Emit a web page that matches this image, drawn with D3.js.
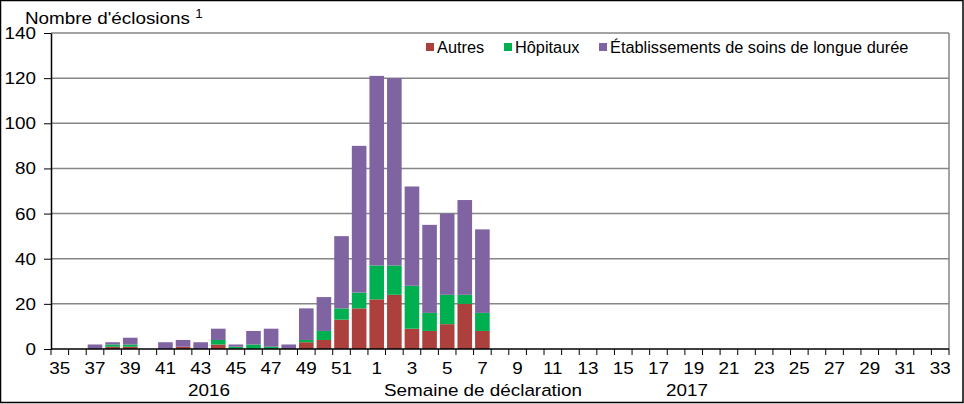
<!DOCTYPE html>
<html><head><meta charset="utf-8">
<script src="https://cdn.jsdelivr.net/npm/d3@7"></script>
<style>
body{margin:0;background:#fff;}
svg{display:block;font-family:"Liberation Sans",Arial,sans-serif;}
</style></head><body>
<svg id="c" width="964" height="404"></svg>
<script>
const weeks = [35,36,37,38,39,40,41,42,43,44,45,46,47,48,49,50,51,52,
  1,2,3,4,5,6,7,8,9,10,11,12,13,14,15,16,17,18,19,20,21,22,23,24,25,26,27,28,29,30,31,32,33];
const autres =   [0,0,0,1,1,0,0,1,0,2,0,0,0,0,3,4,13,18,22,24,9,8,11,20,8,0,0,0,0,0,0,0,0,0,0,0,0,0,0,0,0,0,0,0,0,0,0,0,0,0,0];
const hopitaux = [0,0,0,1,1,0,0,0,0,2,1,2,1,0,1,4,5,7,15,13,19,8,13,4,8,0,0,0,0,0,0,0,0,0,0,0,0,0,0,0,0,0,0,0,0,0,0,0,0,0,0];
const soins =    [0,0,2,1,3,0,3,3,3,5,1,6,8,2,14,15,32,65,84,83,44,39,36,42,37,0,0,0,0,0,0,0,0,0,0,0,0,0,0,0,0,0,0,0,0,0,0,0,0,0,0];
const seriesNames = ["Autres","Hôpitaux","Établissements de soins de longue durée"];
const colors = ["#AB403D","#00B050","#8064A2"];
const yTicks = [0,20,40,60,80,100,120,140];

const svg = d3.select("#c");
const L = 51, R = 949, T = 33, B = 349;
const K = 1.11; // horizontal stretch of the reference's text
function stretch(sel, k){
  sel.each(function(){
    const xv = +(this.getAttribute("x")||0);
    this.setAttribute("transform",`translate(${xv*(1-k)},0) scale(${k},1)`);
  });
}
const x = d3.scaleBand().domain(d3.range(weeks.length)).range([L,R]).paddingInner(0.17).paddingOuter(0.085);
const y = d3.scaleLinear().domain([0,140]).range([B,T]);

// outer border
svg.append("rect").attr("x",0.5).attr("y",0.5).attr("width",962.5).attr("height",402).attr("fill","none").attr("stroke","#000").attr("stroke-width",1.5);

// gridlines
svg.append("g").selectAll("line").data(yTicks.filter(d=>d>0)).join("line")
  .attr("x1",L).attr("x2",R).attr("y1",d=>y(d)).attr("y2",d=>y(d))
  .attr("stroke","#868686").attr("stroke-width",1.5);
svg.append("line").attr("x1",R).attr("x2",R).attr("y1",T).attr("y2",B).attr("stroke","#868686").attr("stroke-width",1.5);

// bars
const table = weeks.map((w,i)=>({i, a:autres[i], h:hopitaux[i], s:soins[i]}));
const stack = d3.stack().keys(["a","h","s"])(table);
svg.append("g").selectAll("g").data(stack).join("g").attr("fill",(d,k)=>colors[k])
  .selectAll("rect").data(d=>d.filter(p=>p[1]-p[0]>0)).join("rect")
  .attr("x",d=>x(d.data.i)).attr("width",x.bandwidth())
  .attr("y",d=>y(d[1])).attr("height",d=>y(d[0])-y(d[1]));

// y axis
const ya = svg.append("g").attr("transform",`translate(${L},0)`)
  .call(d3.axisLeft(y).tickValues(yTicks).tickSize(7).tickSizeOuter(0));
ya.select(".domain").attr("stroke","#000").attr("stroke-width",1.5);
ya.selectAll(".tick line").attr("stroke","#000");
ya.selectAll("text").attr("font-size",17).attr("x",-15).attr("fill","#000").attr("font-family","Liberation Sans, Arial, sans-serif")
  .attr("transform",`translate(${-15*(1-K)},0) scale(${K},1)`);

// x axis
const bounds = d3.range(weeks.length+1).map(i=>L + i*(R-L)/weeks.length);
svg.append("g").selectAll("line").data(bounds).join("line")
  .attr("x1",d=>d).attr("x2",d=>d).attr("y1",B).attr("y2",B+6).attr("stroke","#000");
svg.append("line").attr("x1",L).attr("x2",R).attr("y1",B).attr("y2",B).attr("stroke","#000").attr("stroke-width",1.5);
const xa = svg.append("g").attr("transform",`translate(0,${B})`)
  .call(d3.axisBottom(x).tickValues(d3.range(0,weeks.length,2)).tickFormat(i=>weeks[i]).tickSize(0));
xa.select(".domain").remove();
xa.selectAll("text").attr("font-size",17).attr("y",0).attr("dy","1.45em").attr("fill","#000").attr("font-family","Liberation Sans, Arial, sans-serif")
  .attr("transform",`scale(${K},1)`);

// axis titles
const titles = svg.append("g");
titles.append("text").attr("x",209).attr("y",396).attr("text-anchor","middle").attr("font-size",17).text("2016");
titles.append("text").attr("x",483).attr("y",396).attr("text-anchor","middle").attr("font-size",17).text("Semaine de déclaration");
titles.append("text").attr("x",687).attr("y",396).attr("text-anchor","middle").attr("font-size",17).text("2017");
const t = titles.append("text").attr("x",25).attr("y",24).attr("font-size",17).text("Nombre d'éclosions ");
t.append("tspan").attr("font-size",12).attr("dy",-6).text("1");
stretch(titles.selectAll("text"), K);

// legend
const legX = [426,504,599];
const lg = svg.append("g").selectAll("g").data(seriesNames).join("g")
  .attr("transform",(d,i)=>`translate(${legX[i]},0)`);
lg.append("rect").attr("x",0).attr("y",43).attr("width",8).attr("height",8).attr("fill",(d,i)=>colors[i]);
const lt = lg.append("text").attr("x",11).attr("y",53).attr("font-size",16).text(d=>d);
stretch(lt, 1.02);
</script></body></html>
